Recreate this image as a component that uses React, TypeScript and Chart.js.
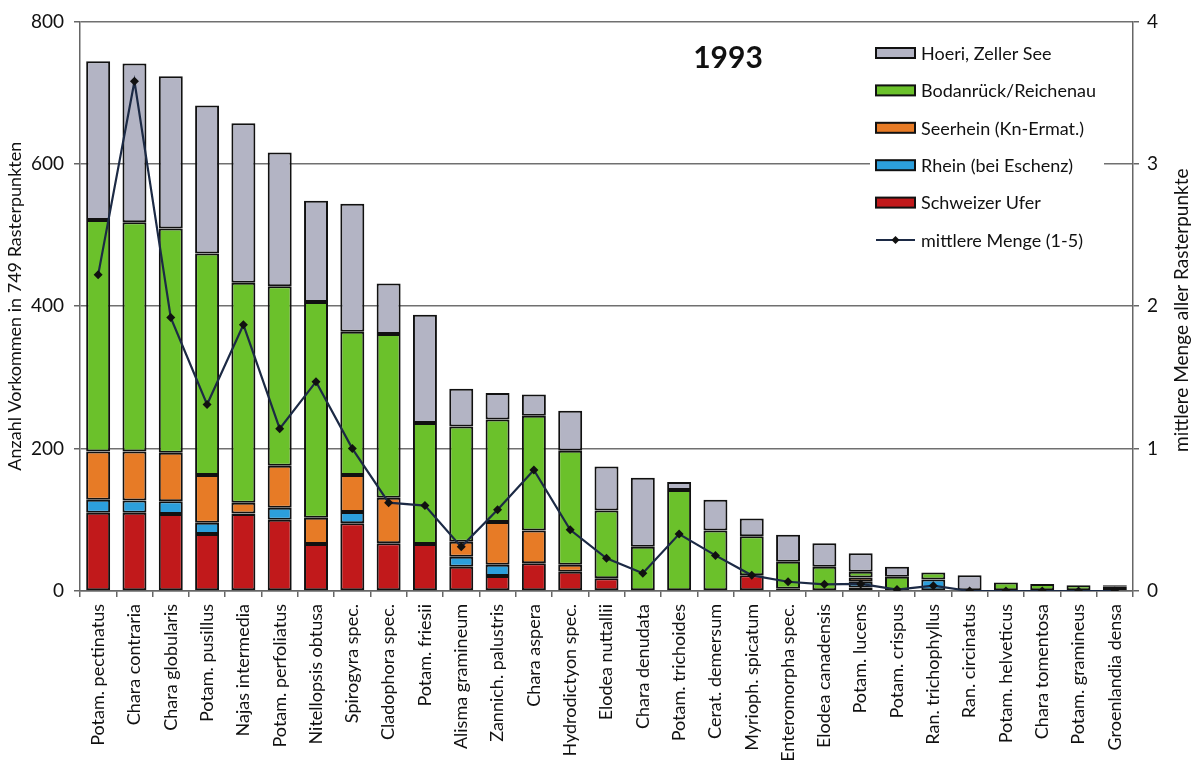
import React, { useEffect, useRef } from "react";
import { Chart, registerables } from "chart.js";

Chart.register(...registerables);

const FONT = "Lato, 'Open Sans', sans-serif";

const categories = [
  "Potam. pectinatus", "Chara contraria", "Chara globularis", "Potam. pusillus",
  "Najas intermedia", "Potam. perfoliatus", "Nitellopsis obtusa", "Spirogyra spec.",
  "Cladophora spec.", "Potam. friesii", "Alisma gramineum", "Zannich. palustris",
  "Chara aspera", "Hydrodictyon spec.", "Elodea nuttallii", "Chara denudata",
  "Potam. trichoides", "Cerat. demersum", "Myrioph. spicatum", "Enteromorpha spec.",
  "Elodea canadensis", "Potam. lucens", "Potam. crispus", "Ran. trichophyllus",
  "Ran. circinatus", "Potam. helveticus", "Chara tomentosa", "Potam. gramineus",
  "Groenlandia densa",
];

const schweizerUfer = [110, 110, 108, 80, 108, 100, 66, 95, 67, 66, 34, 21, 39, 27, 18, 0, 0, 0, 22, 0, 0, 5, 0, 0, 0, 0, 0, 0, 0];
const rheinEschenz = [18, 17, 18, 16, 1, 17, 0, 16, 0, 0, 14, 16, 0, 0, 0, 0, 0, 0, 0, 0, 0, 8, 0, 16, 0, 0, 0, 0, 6];
const seerhein = [68, 69, 68, 67, 15, 59, 37, 52, 64, 0, 21, 60, 46, 10, 0, 0, 0, 0, 0, 3, 0, 6, 0, 0, 0, 0, 0, 0, 0];
const bodanrueck = [325, 322, 315, 311, 309, 252, 303, 201, 230, 170, 162, 144, 161, 160, 95, 62, 142, 85, 55, 38, 34, 8, 20, 10, 0, 12, 10, 8, 2];
const hoeriZellerSee = [223, 223, 214, 208, 224, 188, 142, 180, 71, 152, 53, 37, 30, 56, 62, 97, 11, 43, 25, 38, 33, 26, 14, 0, 22, 0, 0, 0, 0];
const mittlereMenge = [2.22, 3.58, 1.92, 1.31, 1.87, 1.14, 1.47, 1.0, 0.62, 0.6, 0.31, 0.57, 0.85, 0.43, 0.23, 0.125, 0.4, 0.25, 0.11, 0.065, 0.047, 0.05, 0.01, 0.037, 0.0, 0.0, 0.0, 0.0, 0.0];

const seriesLabels = [
  "Schweizer Ufer",
  "Rhein (bei Eschenz)",
  "Seerhein (Kn-Ermat.)",
  "Bodanrück/Reichenau",
  "Hoeri, Zeller See",
];
const lineLabel = "mittlere Menge (1-5)";
const seriesColors = ["#c1191b", "#2c9fdc", "#e77b26", "#6bc12b", "#b3b4c4"];
const lineColor = "#1c2a45";

const chartTitle = "1993";
const leftAxisTitle = "Anzahl Vorkommen in 749 Rasterpunkten";
const rightAxisTitle = "mittlere Menge aller Rasterpunkte";

const overlayPlugin = {
  id: "overlay",
  afterDraw(chart: any) {
    const ctx = chart.ctx as CanvasRenderingContext2D;
    const { top, bottom } = chart.chartArea;
    // right axis title (reads bottom to top)
    ctx.save();
    ctx.font = `19px ${FONT}`;
    ctx.fillStyle = "#111";
    ctx.textAlign = "center";
    ctx.textBaseline = "middle";
    ctx.translate(1182, (top + bottom) / 2 + 4);
    ctx.rotate(-Math.PI / 2);
    ctx.fillText(rightAxisTitle, 0, 0);
    ctx.restore();

    // year title
    ctx.save();
    ctx.font = `bold 30px ${FONT}`;
    ctx.fillStyle = "#111";
    ctx.textAlign = "center";
    ctx.textBaseline = "middle";
    ctx.fillText(chartTitle, 728, 58);
    ctx.restore();

    // legend
    ctx.save();
    ctx.fillStyle = "#fff";
    ctx.fillRect(870, 34, 234, 224);
    const ds = chart.data.datasets;
    const items: any[] = [];
    for (let i = ds.length - 1; i >= 0; i--) {
      if (ds[i].type !== "line") items.push(ds[i]);
    }
    ds.forEach((d: any) => {
      if (d.type === "line") items.push(d);
    });
    const x0 = 876;
    const y0 = 53;
    const step = 37.4;
    ctx.font = `18px ${FONT}`;
    ctx.textBaseline = "middle";
    ctx.textAlign = "left";
    items.forEach((d: any, i: number) => {
      const y = y0 + i * step;
      if (d.type === "line") {
        ctx.strokeStyle = d.borderColor;
        ctx.lineWidth = 2;
        ctx.beginPath();
        ctx.moveTo(x0, y);
        ctx.lineTo(x0 + 39, y);
        ctx.stroke();
        ctx.fillStyle = "#111";
        ctx.beginPath();
        ctx.moveTo(x0 + 19.5, y - 4);
        ctx.lineTo(x0 + 23.5, y);
        ctx.lineTo(x0 + 19.5, y + 4);
        ctx.lineTo(x0 + 15.5, y);
        ctx.closePath();
        ctx.fill();
      } else {
        ctx.fillStyle = d.backgroundColor;
        ctx.fillRect(x0, y - 5, 39, 10);
        ctx.strokeStyle = "#111";
        ctx.lineWidth = 2;
        ctx.strokeRect(x0, y - 5, 39, 10);
      }
      ctx.fillStyle = "#111";
      ctx.fillText(d.label, x0 + 45, y + 1);
    });
    ctx.restore();
  },
};

export default function App() {
  const ref = useRef<HTMLCanvasElement | null>(null);

  useEffect(() => {
    if (!ref.current) return;
    const seriesData = [schweizerUfer, rheinEschenz, seerhein, bodanrueck, hoeriZellerSee];
    const barSets = seriesData.map((data, i) => ({
      type: "bar" as const,
      label: seriesLabels[i],
      data: data.map((v) => (v === 0 ? null : v)),
      backgroundColor: seriesColors[i],
      borderColor: "#111",
      borderWidth: 2,
      borderSkipped: false as const,
      barPercentage: 0.66,
      categoryPercentage: 1.0,
      yAxisID: "y",
      order: 2,
    }));
    const lineSet = {
      type: "line" as const,
      label: lineLabel,
      data: mittlereMenge,
      borderColor: lineColor,
      borderWidth: 2.2,
      tension: 0,
      pointStyle: "rectRot" as const,
      pointRadius: 4.5,
      pointBackgroundColor: "#111",
      pointBorderColor: "#111",
      pointBorderWidth: 0,
      yAxisID: "y2",
      order: 0,
      fill: false,
    };
    const chart = new Chart(ref.current, {
      type: "bar",
      data: { labels: categories, datasets: [...barSets, lineSet] as any },
      plugins: [overlayPlugin],
      options: {
        responsive: false,
        animation: false,
        devicePixelRatio: 1,
        layout: { padding: { top: 18, left: 0, right: 0, bottom: 0 } },
        plugins: { legend: { display: false }, tooltip: { enabled: false }, title: { display: false } },
        scales: {
          x: {
            type: "category",
            stacked: true,
            offset: true,
            grid: {
              offset: true,
              drawOnChartArea: false,
              color: "#666",
              tickColor: "#666",
              tickLength: 6,
              lineWidth: 1.5,
            },
            border: { display: true, color: "#666", width: 1.5 },
            ticks: {
              autoSkip: false,
              maxRotation: 90,
              minRotation: 90,
              padding: 7,
              color: "#111",
              font: { family: FONT, size: 18 },
            },
            afterFit: (s: any) => {
              s.height = 178;
            },
          },
          y: {
            stacked: true,
            position: "left",
            min: 0,
            max: 800,
            ticks: { stepSize: 200, color: "#111", padding: 10, font: { family: FONT, size: 19 } },
            grid: { color: "#707070", lineWidth: 1.5, tickColor: "#666", tickLength: 6 },
            border: { display: true, color: "#666", width: 1.5 },
            title: {
              display: true,
              text: leftAxisTitle,
              color: "#111",
              font: { family: FONT, size: 18 },
              padding: { top: 4, bottom: 0 },
            },
            afterFit: (s: any) => {
              s.width = 80;
            },
          },
          y2: {
            stacked: false,
            position: "right",
            min: 0,
            max: 4,
            ticks: { stepSize: 1, color: "#111", padding: 8, font: { family: FONT, size: 19 } },
            grid: { drawOnChartArea: false, tickColor: "#666", tickLength: 6, lineWidth: 1.5 },
            border: { display: true, color: "#666", width: 1.5 },
            afterFit: (s: any) => {
              s.width = 58;
            },
          },
        },
      } as any,
    });
    return () => chart.destroy();
  }, []);

  return (
    <div style={{ position: "absolute", left: 0, top: 0, width: 1191, height: 769, background: "#fff" }}>
      <canvas ref={ref} width={1191} height={769} style={{ display: "block" }} />
    </div>
  );
}
